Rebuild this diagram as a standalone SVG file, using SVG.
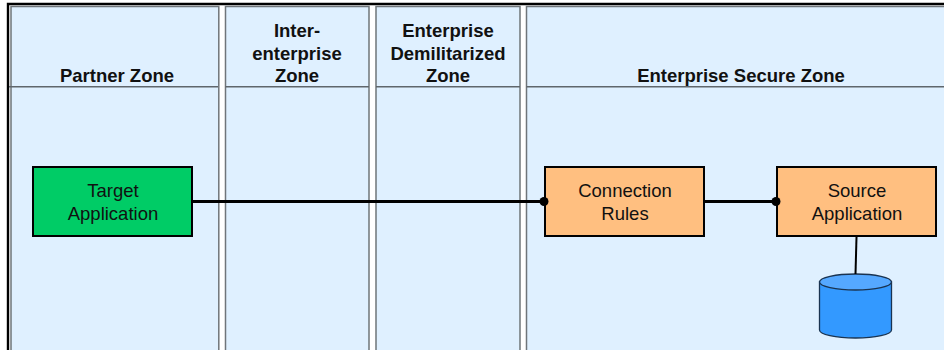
<svg xmlns="http://www.w3.org/2000/svg" width="944" height="350" viewBox="0 0 944 350">
<defs><style>
.zone{fill:#dff0ff;stroke:#6f757a;stroke-width:1.5}
.hdr{stroke:#5f666c;stroke-width:1.5;fill:none}
.t{font-family:"Liberation Sans",Arial,sans-serif;font-size:18.5px;fill:#111;text-anchor:middle}
.b{font-weight:bold}
.box{stroke:#000;stroke-width:2}
.con{stroke:#000;stroke-width:3;fill:none}
</style></defs>
<rect width="944" height="350" fill="#fff"/>
<path d="M8 350V4H944" fill="none" stroke="#000" stroke-width="2.4"/>
<g id="zone-partner"><path class="zone" d="M11 352V6.500H218.800V352Z"/><path class="hdr" d="M9 86.700H218"/><text class="t b" x="117" y="82">Partner Zone</text></g>
<g id="zone-inter"><path class="zone" d="M225.500 352V6.500H369V352Z"/><path class="hdr" d="M225.500 86.700H369"/><text class="t b" x="297" y="37">Inter-</text><text class="t b" x="297" y="59.500">enterprise</text><text class="t b" x="297" y="82">Zone</text></g>
<g id="zone-dmz"><path class="zone" d="M376 352V6.500H520V352Z"/><path class="hdr" d="M376 86.700H520"/><text class="t b" x="448" y="37">Enterprise</text><text class="t b" x="448" y="59.500">Demilitarized</text><text class="t b" x="448" y="82">Zone</text></g>
<g id="zone-secure"><path class="zone" d="M526.500 352V6.500H946V352Z"/><path class="hdr" d="M526.500 86.700H944"/><text class="t b" x="741" y="82">Enterprise Secure Zone</text></g>
<g id="target-application"><rect class="box" x="33" y="167" width="159" height="69" fill="#00cc66"/><text class="t" x="113" y="197">Target</text><text class="t" x="113" y="219.500">Application</text></g>
<g id="connection-rules"><rect class="box" x="545" y="167" width="159" height="69" fill="#ffbf80"/><text class="t" x="625" y="197">Connection</text><text class="t" x="625" y="219.500">Rules</text></g>
<g id="source-application"><rect class="box" x="777" y="167" width="159" height="69" fill="#ffbf80"/><text class="t" x="857" y="197">Source</text><text class="t" x="857" y="219.500">Application</text></g>
<g id="database">
<path d="M819.500 282V330C819.500 334.500 835.500 338 855.500 338S891.500 334.500 891.500 330V282Z" fill="#3399ff" stroke="#1a3350" stroke-width="1.300"/>
<ellipse cx="855.500" cy="282" rx="36" ry="8" fill="#55a8ff" stroke="#1a3350" stroke-width="1.300"/>
</g>
<g id="connectors">
<path class="con" d="M192 201.500H544"/><circle cx="544" cy="201.500" r="4.500"/>
<path class="con" d="M705 201.500H776"/><circle cx="776" cy="201.500" r="4.500"/>
<path d="M856.500 237L855.500 274" stroke="#000" stroke-width="2" fill="none"/>
</g>
</svg>
